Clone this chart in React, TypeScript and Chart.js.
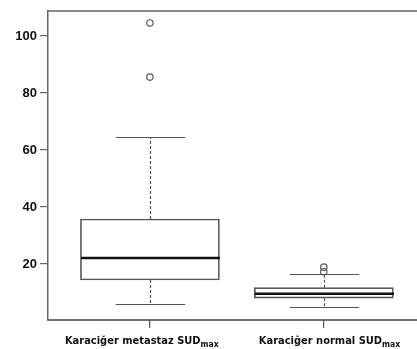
import React, { useEffect, useRef } from "react";
import { Chart, registerables } from "chart.js";

Chart.register(...registerables);

// ---- data ----
const categories = ["Karaciğer metastaz SUD", "Karaciğer normal SUD"];
const subscripts = ["max", "max"];
const q1Values = [14.4, 8.0];
const medianValues = [22.1, 9.6];
const q3Values = [35.8, 11.7];
const whiskerLow = [6.0, 4.8];
const whiskerHigh = [64.6, 16.6];
const outlierValues = [
  [104.6, 85.6],
  [18.9, 17.3],
];
const yTicks = [20, 40, 60, 80, 100];

const BOX_PX = 139;
const LINE = "#555";
const LABEL_FONT = "'DejaVu Sans Condensed', 'Liberation Sans Narrow', sans-serif";

const boxPlugin = {
  id: "boxExtras",
  afterDatasetsDraw(chart: any) {
    const { ctx, scales, chartArea } = chart;
    const xs = scales.x;
    const ys = scales.y;
    ctx.save();
    // top frame line (open on the right, runs off the edge)
    ctx.strokeStyle = "#666";
    ctx.lineWidth = 1.5;
    ctx.beginPath();
    ctx.moveTo(chartArea.left, chartArea.top);
    ctx.lineTo(chart.width, chartArea.top);
    ctx.stroke();
    // bottom axis line runs off the edge too
    ctx.strokeStyle = "#444";
    ctx.beginPath();
    ctx.moveTo(chartArea.left - 0.75, chartArea.bottom);
    ctx.lineTo(chart.width, chartArea.bottom);
    ctx.stroke();

    categories.forEach((_, i) => {
      const cx = Math.round(xs.getPixelForValue(i + 1)) + 0.5;
      const capHalf = BOX_PX / 4;
      const yLo = ys.getPixelForValue(whiskerLow[i]);
      const yHi = ys.getPixelForValue(whiskerHigh[i]);
      const yQ1 = ys.getPixelForValue(q1Values[i]);
      const yQ3 = ys.getPixelForValue(q3Values[i]);
      const yMed = ys.getPixelForValue(medianValues[i]);
      // dashed whiskers
      ctx.strokeStyle = LINE;
      ctx.lineWidth = 1.2;
      ctx.setLineDash([3, 2]);
      ctx.beginPath();
      ctx.moveTo(cx, yQ3);
      ctx.lineTo(cx, yHi);
      ctx.moveTo(cx, yQ1);
      ctx.lineTo(cx, yLo);
      ctx.stroke();
      ctx.setLineDash([]);
      ctx.lineWidth = 1;
      // caps
      ctx.beginPath();
      ctx.moveTo(cx - capHalf, Math.round(yHi) + 0.5);
      ctx.lineTo(cx + capHalf, Math.round(yHi) + 0.5);
      ctx.moveTo(cx - capHalf, Math.round(yLo) + 0.5);
      ctx.lineTo(cx + capHalf, Math.round(yLo) + 0.5);
      ctx.stroke();
      // median
      ctx.strokeStyle = "#111";
      ctx.lineWidth = 2.5;
      ctx.beginPath();
      ctx.moveTo(cx - BOX_PX / 2, yMed);
      ctx.lineTo(cx + BOX_PX / 2, yMed);
      ctx.stroke();
    });

    // x labels with subscript
    const labelOffsets = [-85, -65];
    categories.forEach((lab, i) => {
      const cx = xs.getPixelForValue(i + 1);
      const x0 = cx + labelOffsets[i];
      ctx.fillStyle = "#111";
      ctx.textBaseline = "alphabetic";
      ctx.textAlign = "left";
      ctx.font = "bold 11px " + LABEL_FONT;
      ctx.fillText(lab, x0, 344);
      const w = ctx.measureText(lab).width;
      ctx.font = "bold 8.5px " + LABEL_FONT;
      ctx.fillText(subscripts[i], x0 + w, 347);
    });
    ctx.restore();
  },
};

export default function App() {
  const ref = useRef<HTMLCanvasElement>(null);
  useEffect(() => {
    document.body.style.margin = "0";
    document.body.style.overflow = "hidden";
    const canvas = ref.current!;
    const outlierPoints: { x: number; y: number }[] = [];
    outlierValues.forEach((arr, i) => arr.forEach((v) => outlierPoints.push({ x: i + 1, y: v })));
    const chart = new Chart(canvas, {
      type: "bar",
      data: {
        datasets: [
          {
            type: "bar",
            data: categories.map((_, i) => ({ x: i + 1, y: [q1Values[i], q3Values[i]] })) as any,
            backgroundColor: "rgba(255,255,255,0)",
            borderColor: LINE,
            borderWidth: 1,
            borderSkipped: false,
            barThickness: BOX_PX,
          } as any,
          {
            type: "scatter",
            data: outlierPoints,
            pointRadius: 3.2,
            pointBorderWidth: 1.2,
            pointBorderColor: LINE,
            pointBackgroundColor: "rgba(255,255,255,0)",
          } as any,
        ],
      },
      options: {
        animation: false,
        responsive: false,
        maintainAspectRatio: false,
        layout: { padding: { top: 11, right: 0, left: 0, bottom: 0 } },
        plugins: { legend: { display: false }, tooltip: { enabled: false } },
        scales: {
          x: {
            type: "linear",
            offset: false,
            min: 0.4138,
            max: 2.506,
            afterBuildTicks: (s: any) => {
              s.ticks = categories.map((_, i) => ({ value: i + 1 }));
            },
            afterFit: (s: any) => {
              s.height = 29;
              s.paddingLeft = 0;
              s.paddingRight = 0;
            },
            ticks: { display: false },
            grid: { offset: false, drawOnChartArea: false, tickLength: 8, color: "#555", lineWidth: 1.2 },
            border: { display: false },
          },
          y: {
            type: "linear",
            min: 0.35,
            max: 108.8,
            afterBuildTicks: (s: any) => {
              s.ticks = yTicks.map((v) => ({ value: v }));
            },
            afterFit: (s: any) => {
              s.width = 48;
            },
            ticks: {
              color: "#111",
              padding: 3,
              font: { family: "'Liberation Sans', Arial, sans-serif", size: 13, weight: "bold" },
            },
            grid: { drawOnChartArea: false, tickLength: 8, color: "#666", lineWidth: 1.2 },
            border: { display: true, color: "#666", width: 1.5 },
          },
        },
      },
      plugins: [boxPlugin],
    });
    return () => chart.destroy();
  }, []);
  return <canvas ref={ref} width={417} height={349} style={{ display: "block" }} />;
}
